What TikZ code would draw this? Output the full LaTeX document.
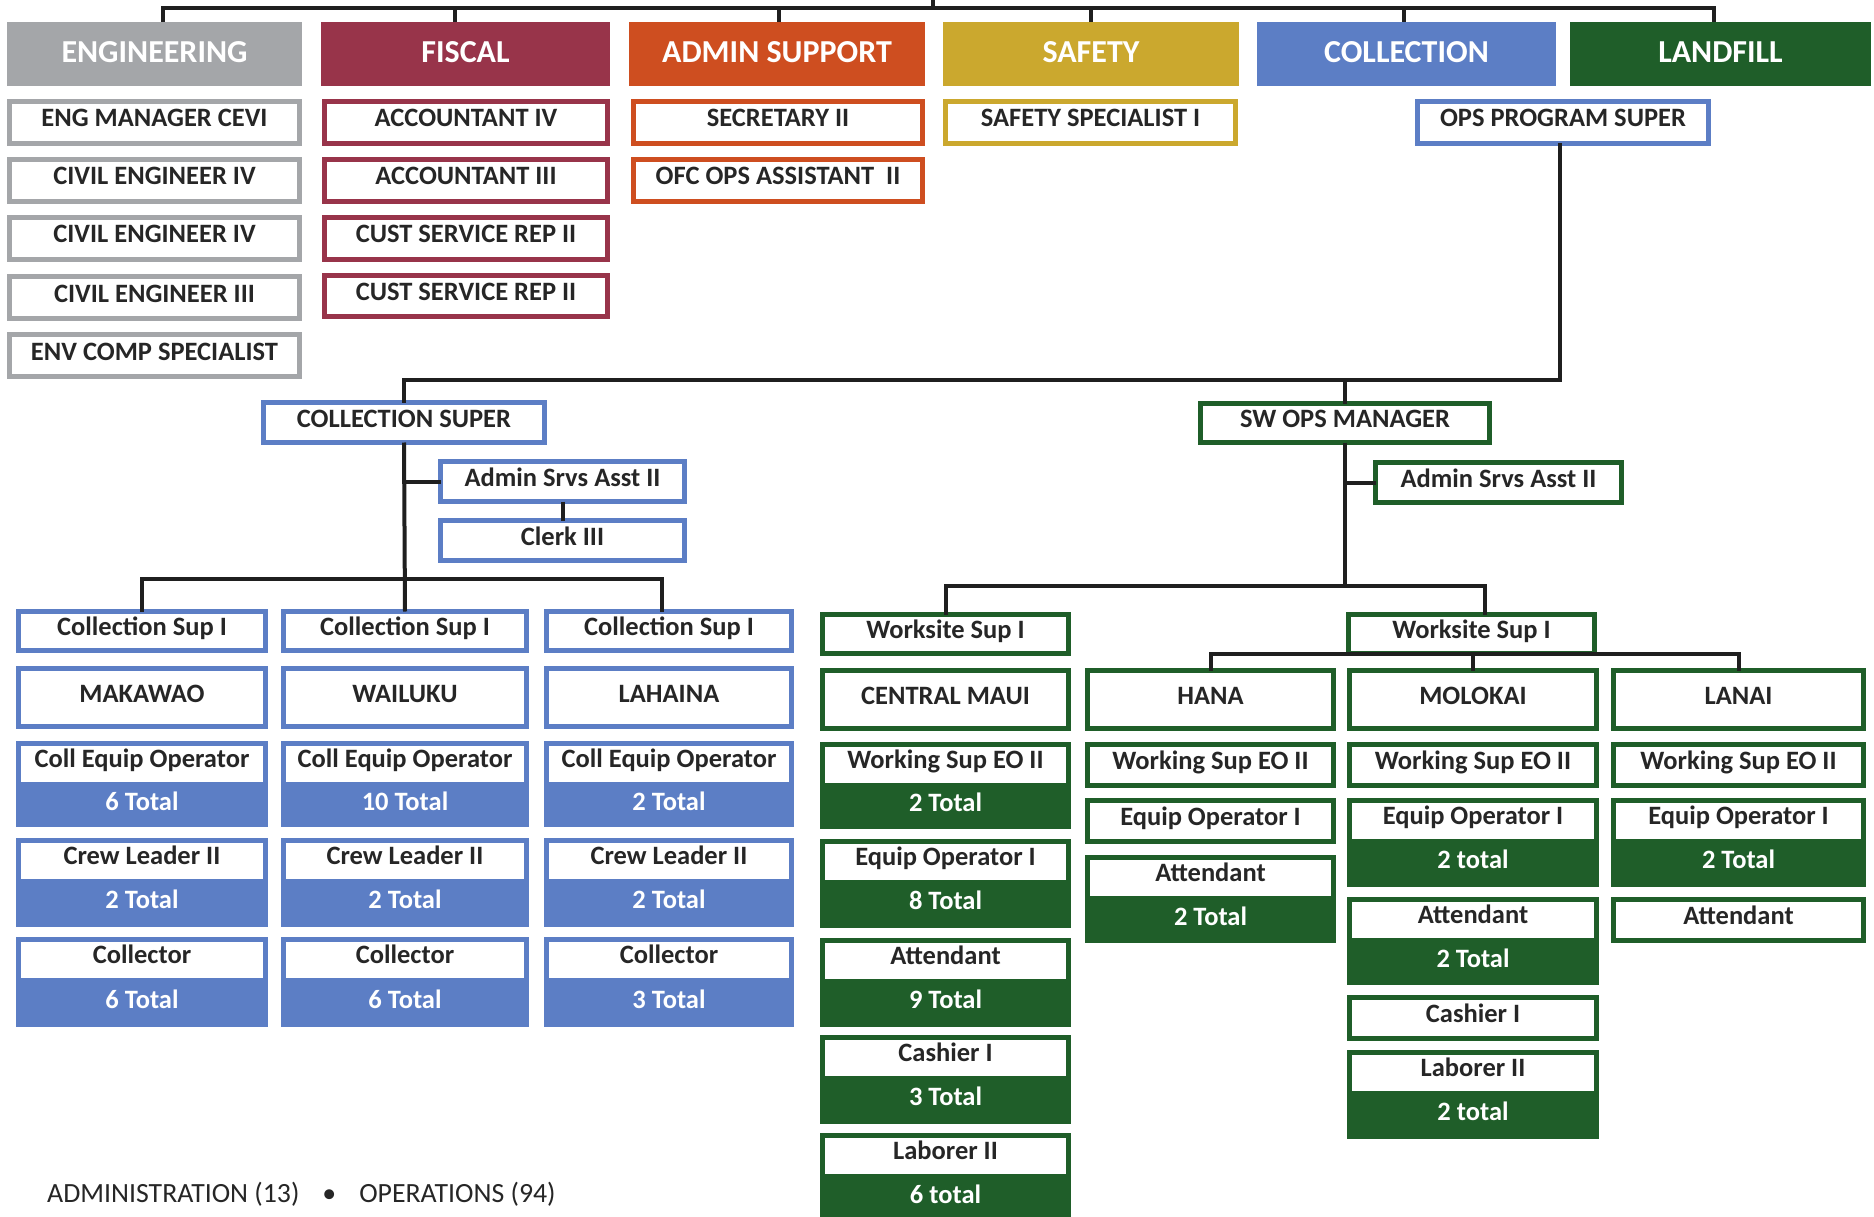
\documentclass[tikz,border=0pt]{standalone}
\usepackage{fontspec}
\setmainfont{Carlito}
\definecolor{cgray}{RGB}{164,166,169}
\definecolor{cmar}{RGB}{152,52,74}
\definecolor{cora}{RGB}{206,78,32}
\definecolor{cmus}{RGB}{203,168,46}
\definecolor{cblu}{RGB}{92,126,197}
\definecolor{cgrn}{RGB}{31,94,41}
\definecolor{ctxt}{RGB}{38,38,38}
% plain box: name, x1, y1, x2, y2, colour, text
\newcommand\bx[7]{%
  \node[sub, draw=#6, minimum width={#4-#2-5}, minimum height={#5-#3-5}] (#1) at ({(#2+#4)/2},{(#3+#5)/2}) {};
  \node[txt, anchor=base] (#1-t) at ({(#2+#4)/2},{(#3+#5)/2+4.5}) {#7};}
% header: name, x1, y1, x2, y2, colour, text
\newcommand\hd[7]{%
  \node[fill=#6, minimum width={#4-#2}, minimum height={#5-#3}, inner sep=0pt, outer sep=0pt] (#1) at ({(#2+#4)/2},{(#3+#5)/2}) {};
  \node[htxt, anchor=base] (#1-t) at ({(#2+#4)/2},{(#3+#5)/2+9}) {#7};}
% group: name, x1, y1, x2, y2, colour, label, total
\newcommand\grp[8]{%
  \node[fill=#6, minimum width={#4-#2}, minimum height={#5-#3}, inner sep=0pt, outer sep=0pt] (#1) at ({(#2+#4)/2},{(#3+#5)/2}) {};
  \node[fill=white, minimum width={#4-#2-10}, minimum height=36, inner sep=0pt, outer sep=0pt] (#1-w) at ({(#2+#4)/2},{#3+23}) {};
  \node[txt, anchor=base] (#1-l) at ({(#2+#4)/2},{#3+26}) {#7};
  \node[wtxt, anchor=base] (#1-t) at ({(#2+#4)/2},{(#3+41+#5)/2+5.5}) {#8};}
\begin{document}
\begin{tikzpicture}[x=1pt,y=-1pt,
  sub/.style={line width=5pt, fill=white, inner sep=0pt, outer sep=0pt},
  txt/.style={font=\fontsize{26.5}{30}\selectfont\bfseries, text=ctxt, inner sep=0pt},
  wtxt/.style={font=\fontsize{26.5}{30}\selectfont\bfseries, text=white, inner sep=0pt},
  htxt/.style={font=\fontsize{32}{36}\selectfont\bfseries, text=white, inner sep=0pt},
  foot/.style={font=\fontsize{27.8}{32}\selectfont, text=ctxt, inner sep=0pt},
  conn/.style={line width=4pt, draw=black!88}]
\useasboundingbox[fill=white] (0,0) rectangle (1874,1217);

% ---------- department headers ----------
\hd{eng}{7}{22}{302}{86}{cgray}{ENGINEERING}
\hd{fis}{321}{22}{610}{86}{cmar}{FISCAL}
\hd{adm}{629}{22}{925}{86}{cora}{ADMIN SUPPORT}
\hd{saf}{943}{22}{1239}{86}{cmus}{SAFETY}
\hd{col}{1257}{22}{1556}{86}{cblu}{COLLECTION}
\hd{lan}{1570}{22}{1871}{86}{cgrn}{LANDFILL}

% ---------- department staff ----------
\bx{e1}{7}{99}{302}{146}{cgray}{ENG MANAGER CEVI}
\bx{e2}{7}{157}{302}{204}{cgray}{CIVIL ENGINEER IV}
\bx{e3}{7}{215}{302}{262}{cgray}{CIVIL ENGINEER IV}
\bx{e4}{7}{274}{302}{321}{cgray}{CIVIL ENGINEER III}
\bx{e5}{7}{332}{302}{379}{cgray}{ENV COMP SPECIALIST}

\bx{f1}{322}{99}{610}{146}{cmar}{ACCOUNTANT IV}
\bx{f2}{322}{157}{610}{204}{cmar}{ACCOUNTANT III}
\bx{f3}{322}{215}{610}{262}{cmar}{CUST SERVICE REP II}
\bx{f4}{322}{273}{610}{319}{cmar}{CUST SERVICE REP II}

\bx{a1}{631}{99}{925}{146}{cora}{SECRETARY II}
\bx{a2}{631}{157}{925}{204}{cora}{OFC OPS ASSISTANT\ \ II}

\bx{s1}{943}{99}{1238}{146}{cmus}{SAFETY SPECIALIST I}

\bx{ops}{1415}{99}{1711}{146}{cblu}{OPS PROGRAM SUPER}

% ---------- collection branch ----------
\bx{csup}{261}{400}{547}{445}{cblu}{COLLECTION SUPER}
\bx{csadm}{438}{459}{687}{504}{cblu}{Admin Srvs Asst II}
\bx{clerk}{438}{518}{687}{563}{cblu}{Clerk III}

\bx{cs1}{16}{609}{268}{653}{cblu}{Collection Sup I}
\bx{cs2}{281}{609}{529}{653}{cblu}{Collection Sup I}
\bx{cs3}{544}{609}{794}{653}{cblu}{Collection Sup I}

\bx{mak}{16}{666}{268}{729}{cblu}{MAKAWAO}
\bx{wai}{281}{666}{529}{729}{cblu}{WAILUKU}
\bx{lah}{544}{666}{794}{729}{cblu}{LAHAINA}

\grp{mak1}{16}{741}{268}{827}{cblu}{Coll Equip Operator}{6 Total}
\grp{mak2}{16}{838}{268}{927}{cblu}{Crew Leader II}{2 Total}
\grp{mak3}{16}{937}{268}{1027}{cblu}{Collector}{6 Total}
\grp{wai1}{281}{741}{529}{827}{cblu}{Coll Equip Operator}{10 Total}
\grp{wai2}{281}{838}{529}{927}{cblu}{Crew Leader II}{2 Total}
\grp{wai3}{281}{937}{529}{1027}{cblu}{Collector}{6 Total}
\grp{lah1}{544}{741}{794}{827}{cblu}{Coll Equip Operator}{2 Total}
\grp{lah2}{544}{838}{794}{927}{cblu}{Crew Leader II}{2 Total}
\grp{lah3}{544}{937}{794}{1027}{cblu}{Collector}{3 Total}

% ---------- landfill branch ----------
\bx{sw}{1198}{401}{1492}{445}{cgrn}{SW OPS MANAGER}
\bx{swadm}{1373}{460}{1624}{505}{cgrn}{Admin Srvs Asst II}

\bx{ws1}{820}{612}{1071}{656}{cgrn}{Worksite Sup I}
\bx{ws2}{1346}{612}{1597}{656}{cgrn}{Worksite Sup I}

\bx{cm}{820}{668}{1071}{731}{cgrn}{CENTRAL MAUI}
\bx{hana}{1085}{668}{1336}{731}{cgrn}{HANA}
\bx{mol}{1347}{668}{1599}{731}{cgrn}{MOLOKAI}
\bx{lanai}{1611}{668}{1866}{731}{cgrn}{LANAI}

\grp{cm1}{820}{742}{1071}{829}{cgrn}{Working Sup EO II}{2 Total}
\grp{cm2}{820}{839}{1071}{928}{cgrn}{Equip Operator I}{8 Total}
\grp{cm3}{820}{938}{1071}{1027}{cgrn}{Attendant}{9 Total}
\grp{cm4}{820}{1035}{1071}{1124}{cgrn}{Cashier I}{3 Total}
\grp{cm5}{820}{1133}{1071}{1221}{cgrn}{Laborer II}{6 total}

\bx{ha1}{1085}{742}{1336}{788}{cgrn}{Working Sup EO II}
\bx{ha2}{1085}{798}{1336}{844}{cgrn}{Equip Operator I}
\grp{ha3}{1085}{855}{1336}{943}{cgrn}{Attendant}{2 Total}

\bx{mo1}{1347}{742}{1599}{788}{cgrn}{Working Sup EO II}
\grp{mo2}{1347}{798}{1599}{887}{cgrn}{Equip Operator I}{2 total}
\grp{mo3}{1347}{897}{1599}{985}{cgrn}{Attendant}{2 Total}
\bx{mo4}{1347}{995}{1599}{1041}{cgrn}{Cashier I}
\grp{mo5}{1347}{1050}{1599}{1139}{cgrn}{Laborer II}{2 total}

\bx{la1}{1611}{742}{1866}{788}{cgrn}{Working Sup EO II}
\grp{la2}{1611}{798}{1866}{887}{cgrn}{Equip Operator I}{2 Total}
\bx{la3}{1611}{897}{1866}{943}{cgrn}{Attendant}

% ---------- footer ----------
\node[foot, anchor=base west] (footer) at (47,1202) {ADMINISTRATION (13)\hspace{23pt}•\hspace{23pt}OPERATIONS (94)};

% ---------- connectors ----------
\coordinate (root) at (933,-6);
\coordinate (topbar) at (0,8);
\draw[conn] ([xshift=8pt]eng.north) -- ([xshift=8pt]eng.north |- topbar) -- ([xshift=-7pt]lan.north |- topbar) -- ([xshift=-7pt]lan.north);
\draw[conn] (root) -- (root |- topbar);
\draw[conn] ([xshift=-11pt]fis.north) -- ([xshift=-11pt]fis.north |- topbar);
\draw[conn] ([xshift=2pt]adm.north) -- ([xshift=2pt]adm.north |- topbar);
\draw[conn] (saf.north) -- (saf.north |- topbar);
\draw[conn] ([xshift=-3pt]col.north) -- ([xshift=-3pt]col.north |- topbar);

\coordinate (bar2) at (0,380);
\draw[conn] ([xshift=-3pt]ops.south) -- ([xshift=-3pt]ops.south |- bar2) -- (csup.north |- bar2) -- (csup.north);
\draw[conn] (sw.north) -- (sw.north |- bar2);

\coordinate (bar3) at (0,579);
\draw[conn] (csup.south) -- (cs2.north);
\draw[conn] (cs1.north) -- (cs1.north |- bar3) -- ([xshift=-7pt]cs3.north |- bar3) -- ([xshift=-7pt]cs3.north);
\draw[conn] (csadm.west) -- (csadm.west -| csup.south);
\draw[conn] (csadm.south) -- (clerk.north);

\coordinate (bar4) at (0,586);
\draw[conn] (sw.south) -- (sw.south |- bar4);
\draw[conn] (ws1.north) -- (ws1.north |- bar4) -- ([xshift=13pt]ws2.north |- bar4) -- ([xshift=13pt]ws2.north);
\draw[conn] (swadm.west) -- (swadm.west -| sw.south);

\draw[conn] (hana.north) -- (hana.north |- ws2.south) -- (lanai.north |- ws2.south) -- (lanai.north);
\draw[conn] (mol.north) -- (mol.north |- ws2.south);
\end{tikzpicture}
\end{document}
